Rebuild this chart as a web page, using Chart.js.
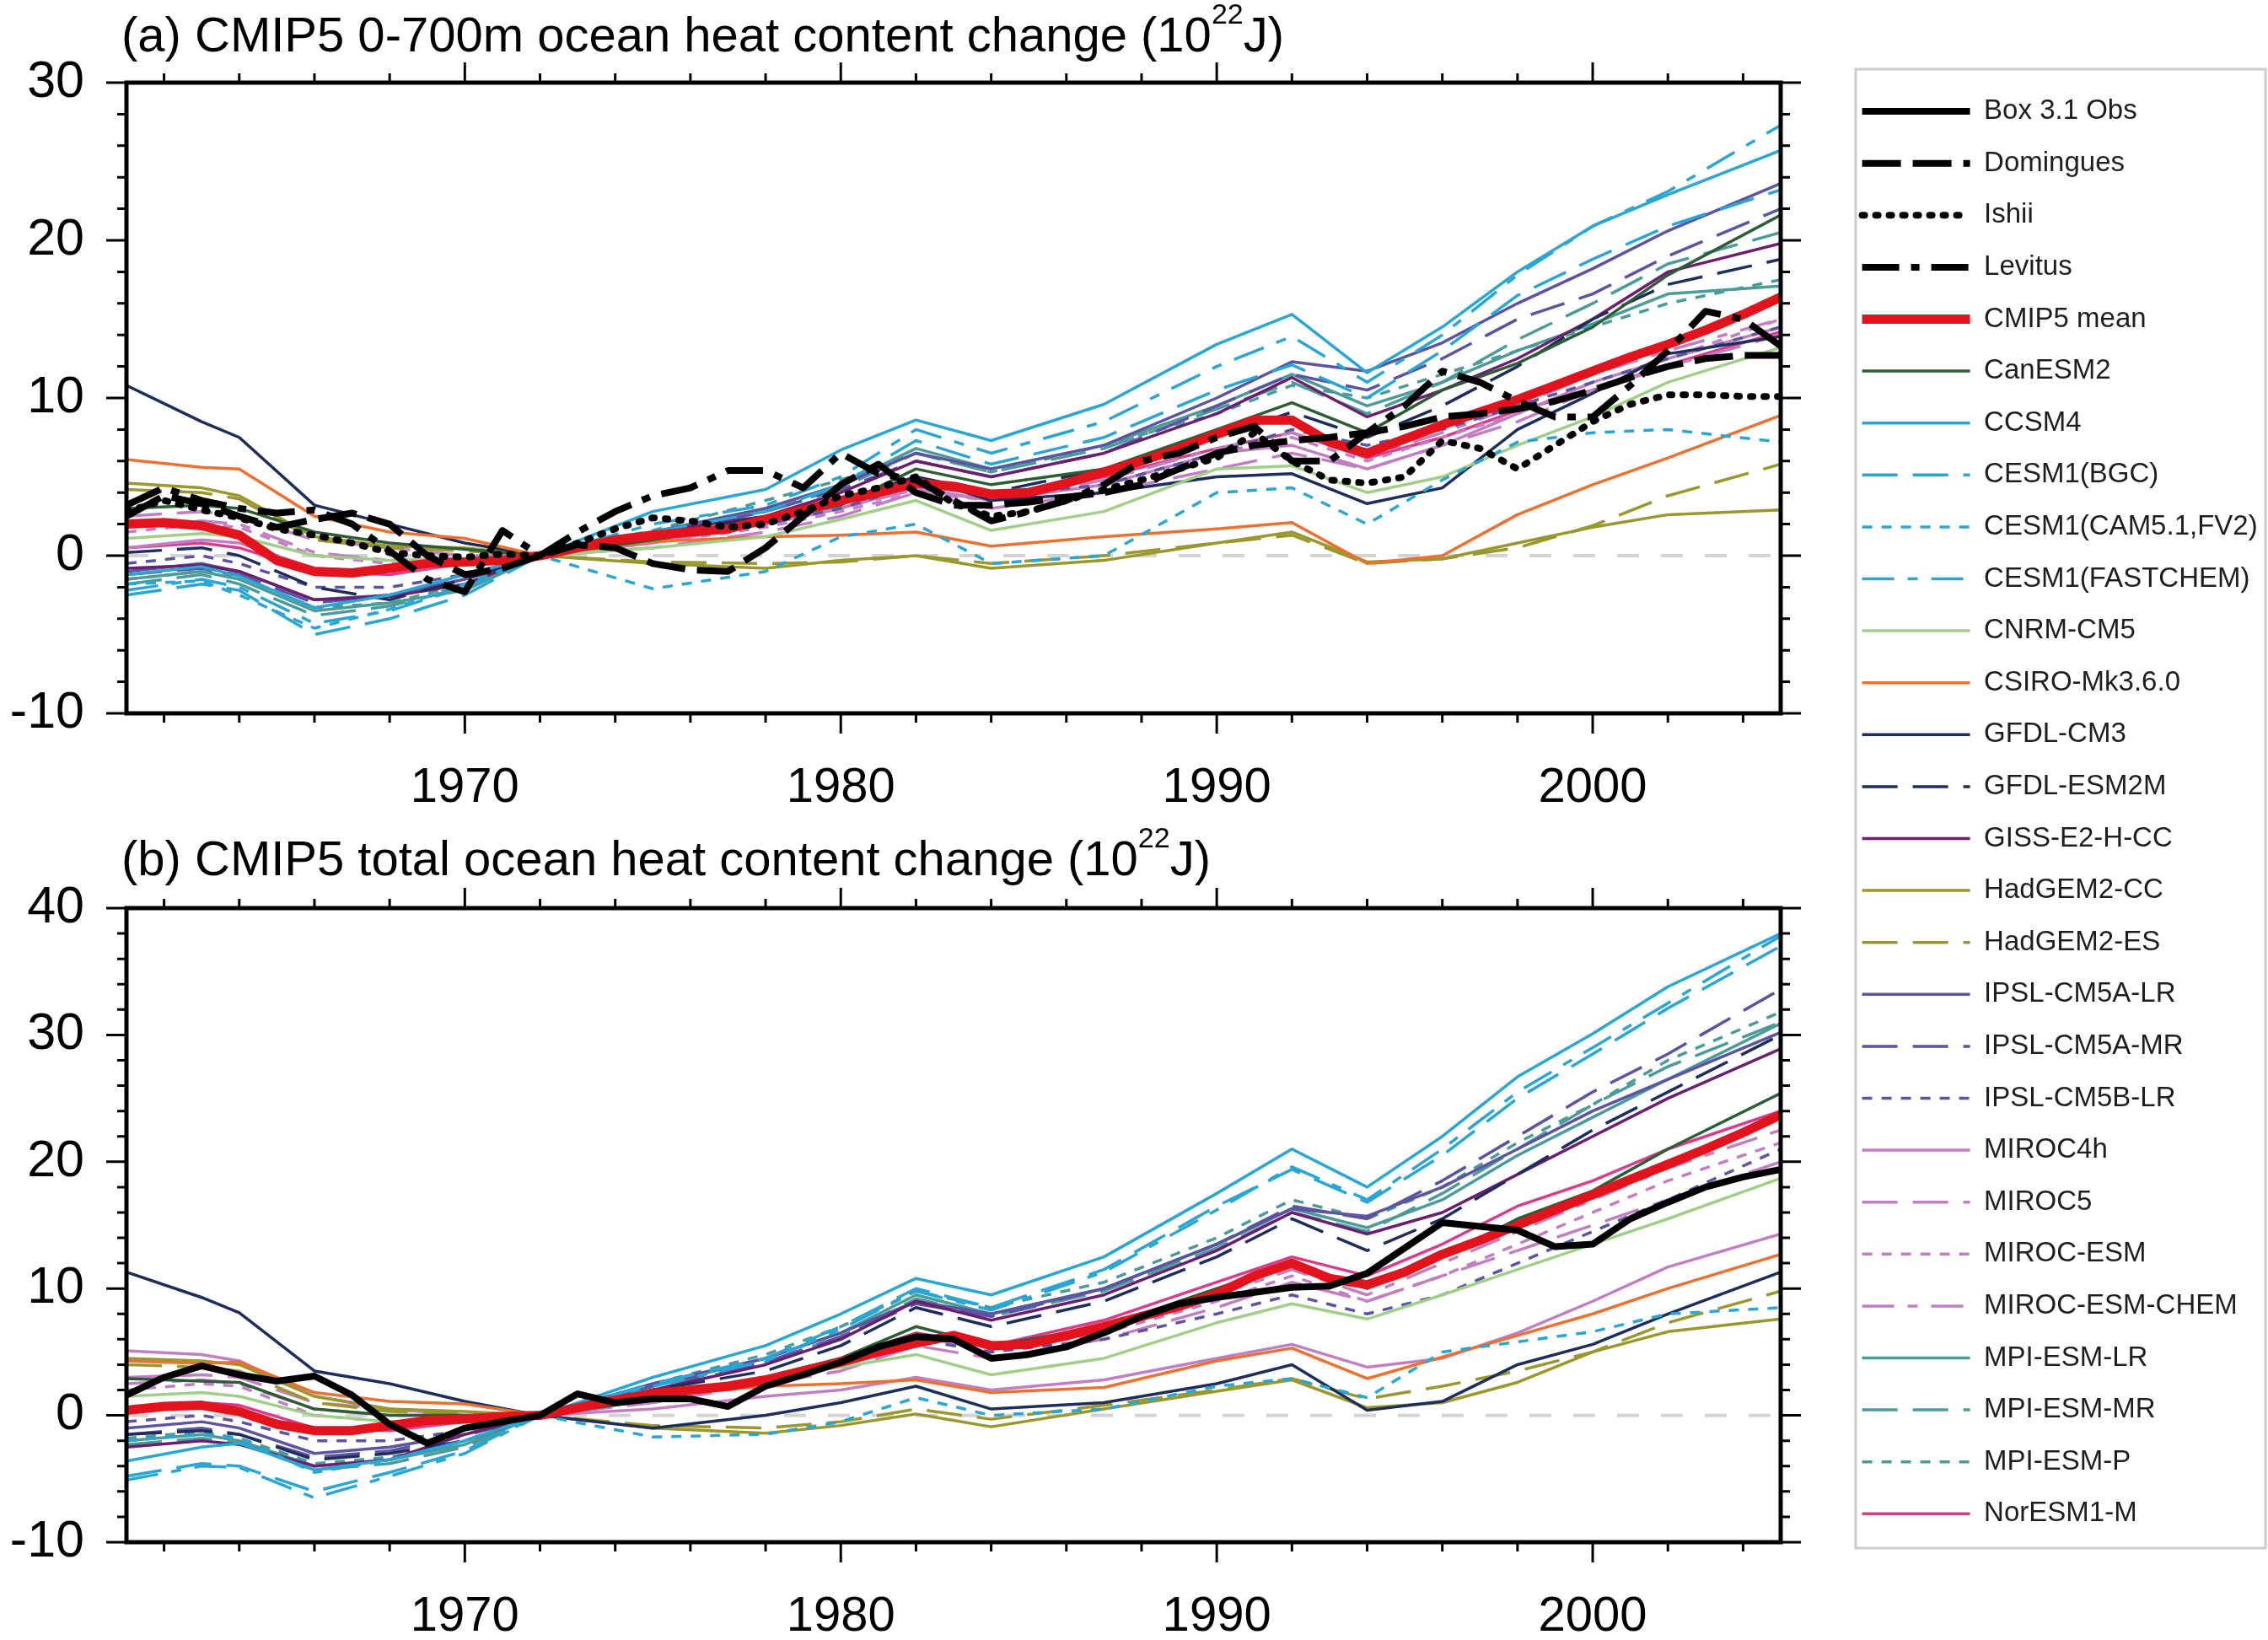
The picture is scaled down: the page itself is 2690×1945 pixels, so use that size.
<!DOCTYPE html>
<html>
<head>
<meta charset="utf-8">
<script src="https://cdn.jsdelivr.net/npm/chart.js@4/dist/chart.umd.min.js"></script>
<style>
  body { margin: 0; width: 2690px; height: 1945px; overflow: hidden; background: #fff; position: relative; font-family: "Liberation Sans", Arial, sans-serif; }
  canvas { position: absolute; }
  .ttl { position: absolute; left: 144px; font-size: 58px; line-height: 58px; color: #000; white-space: nowrap; z-index: 2; }
  .ttl span { font-size: 34px; position: relative; top: -33px; }
</style>
</head>
<body>
<canvas id="chartA" width="2180" height="1010" style="left:0;top:0;width:2180px;height:1010px"></canvas>
<canvas id="chartB" width="2180" height="965" style="left:0;top:980px;width:2180px;height:965px"></canvas>
<canvas id="legendChart" width="1100" height="1945" style="left:2180px;top:0;width:1100px;height:1945px"></canvas>
<div class="ttl" style="top:12px">(a) CMIP5 0-700m ocean heat content change (10<span>22</span>J)</div>
<div class="ttl" style="top:989px">(b) CMIP5 total ocean heat content change (10<span>22</span>J)</div>
<script>
// years of the annual obs / mean series
const years = [1961, 1962, 1963, 1964, 1965, 1966, 1967, 1968, 1969, 1970,
  1971, 1972, 1973, 1974, 1975, 1976, 1977, 1978, 1979, 1980,
  1981, 1982, 1983, 1984, 1985, 1986, 1987, 1988, 1989, 1990,
  1991, 1992, 1993, 1994, 1995, 1996, 1997, 1998, 1999, 2000,
  2001, 2002, 2003, 2004, 2005];
const modelYears = [1961, 1963, 1964, 1966, 1968, 1970, 1972, 1975, 1978, 1980, 1982,
  1984, 1987, 1990, 1992, 1994, 1996, 1998, 2000, 2002, 2005];

const xTicks = [1970, 1980, 1990, 2000];
const yTicksA = [-10, 0, 10, 20, 30];
const yTicksB = [-10, 0, 10, 20, 30, 40];

// (a) 0-700 m observations and multi-model mean
const domingues = [2.5, 3.8, 3.3, 2.5, 1.8, 2.3, 2.7, 2.0, 0.0, -1.2,
  -0.8, 0, 0.7, 0.5, -0.5, -0.9, -1.0, 0.5, 2.5, 4.5,
  5.8, 4.0, 3.2, 3.2, 3.4, 3.7, 4.0, 4.5, 5.5, 6.5,
  7.0, 7.3, 7.5, 7.8, 8.2, 8.8, 9.0, 9.3, 9.8, 10.5,
  11.3, 12.0, 12.5, 12.7, 12.7];
const ishii = [2.8, 3.5, 2.9, 2.4, 1.7, 1.3, 0.8, 0.2, 0.0, -0.1,
  0.1, 0, 0.8, 1.7, 2.4, 2.2, 1.8, 2.0, 2.8, 3.8,
  4.3, 5.0, 3.3, 2.5, 2.8, 3.5, 4.2, 4.8, 5.5, 6.2,
  7.8, 6.0, 4.8, 4.6, 5.0, 7.3, 6.8, 5.5, 7.0, 8.5,
  9.6, 10.2, 10.2, 10.1, 10.1];
const levitus = [3.2, 4.3, 3.5, 3.0, 2.7, 2.9, 2.0, 0.3, -1.5, -2.3,
  1.6, 0, 1.5, 2.8, 3.8, 4.3, 5.4, 5.4, 4.3, 6.5,
  5.2, 4.8, 3.5, 2.2, 2.8, 3.5, 4.5, 6.0, 6.5, 7.5,
  8.2, 6.0, 6.0, 7.8, 9.5, 11.7, 11.0, 9.8, 8.8, 8.8,
  10.8, 13.0, 15.5, 15.0, 13.3];
const meanA = [2.0, 2.1, 1.9, 1.3, -0.3, -1.0, -1.1, -0.8, -0.5, -0.4,
  -0.3, 0, 0.5, 1.0, 1.3, 1.5, 1.7, 2.3, 2.9, 3.5,
  4.0, 4.6, 4.4, 3.9, 4.0, 4.6, 5.3, 6.0, 6.8, 7.7,
  8.6, 8.6, 7.2, 6.5, 7.4, 8.3, 9.1, 9.9, 10.8, 11.7,
  12.6, 13.4, 14.3, 15.3, 16.4];

// (b) total ocean observations and multi-model mean
const boxObs = [1.6, 3.0, 3.9, 3.2, 2.7, 3.1, 1.6, -0.7, -2.2, -1.0,
  -0.5, 0, 1.7, 1.0, 1.3, 1.3, 0.7, 2.3, 3.2, 4.2,
  5.4, 6.2, 6.0, 4.5, 4.8, 5.4, 6.5, 7.8, 8.8, 9.3,
  9.7, 10.1, 10.2, 11.2, 13.2, 15.2, 14.9, 14.6, 13.3, 13.5,
  15.5, 16.8, 18.0, 18.8, 19.4];
const meanB = [0.4, 0.7, 0.8, 0.3, -0.7, -1.2, -1.2, -0.8, -0.4, -0.3,
  -0.1, 0, 0.6, 1.2, 1.7, 2.0, 2.3, 2.8, 3.5, 4.2,
  5.0, 5.7, 6.3, 5.5, 5.6, 6.3, 7.0, 7.8, 8.6, 9.6,
  11.0, 12.0, 10.8, 10.3, 11.3, 12.7, 13.8, 15.0, 16.2, 17.4,
  18.6, 19.8, 21.0, 22.3, 23.7];

// models, panel (a)
const canESM2_a = [3.0, 3.2, 3.0, 1.5, 0.8, 0.4, 0, 1.0, 2.2, 3.2, 5.5, 4.5, 5.5, 8.0, 9.7, 7.8, 10.5, 12.2, 14.5, 17.8, 21.6];
const ccsm4_a = [-1.2, -0.7, -1.3, -3.3, -2.5, -1.2, 0, 2.8, 4.2, 6.7, 8.6, 7.3, 9.6, 13.4, 15.3, 11.6, 14.5, 18.0, 20.9, 22.9, 25.7];
const cesmBGC_a = [-2.5, -1.8, -2.2, -5.0, -4.0, -2.5, 0, 1.5, 2.8, 4.5, 7.3, 5.8, 7.5, 10.5, 12.1, 10.0, 13.0, 16.5, 18.8, 20.9, 23.2];
const cesmCAM_a = [-1.8, -1.6, -2.5, -4.6, -3.4, -1.8, 0, -2.1, -1.0, 1.2, 2.0, -0.5, 0.0, 4.0, 4.3, 2.0, 4.8, 7.2, 7.8, 8.0, 7.2];
const cesmFC_a = [-2.2, -1.5, -2.0, -4.3, -3.5, -2.0, 0, 2.0, 3.2, 5.0, 8.0, 6.5, 8.5, 12.0, 13.9, 11.0, 14.0, 17.8, 20.9, 23.1, 27.3];
const cnrm_a = [1.1, 1.4, 1.2, 0.0, -0.3, -0.3, 0, 0.5, 1.2, 2.3, 3.5, 1.6, 2.8, 5.5, 5.7, 4.0, 5.0, 7.0, 8.8, 11.0, 13.2];
const csiro_a = [6.1, 5.6, 5.5, 2.5, 1.5, 1.1, 0, 0.9, 1.2, 1.3, 1.5, 0.6, 1.2, 1.7, 2.1, -0.5, 0.0, 2.6, 4.5, 6.2, 8.9];
const gfdlCM3_a = [10.8, 8.5, 7.5, 3.2, 2.0, 0.8, 0, 1.0, 2.2, 3.5, 5.0, 3.5, 4.0, 5.0, 5.2, 3.3, 4.3, 8.0, 10.3, 12.8, 13.9];
const gfdlESM_a = [0.2, 0.5, 0.0, -2.0, -2.8, -1.5, 0, 1.2, 2.5, 3.5, 5.0, 4.0, 5.5, 7.5, 9.1, 7.5, 9.5, 12.0, 15.0, 17.2, 18.8];
const giss_a = [-0.8, -0.6, -1.0, -2.8, -2.6, -1.8, 0, 1.5, 2.5, 4.0, 6.0, 5.0, 6.5, 9.0, 11.3, 8.8, 10.5, 12.5, 15.0, 18.0, 19.8];
const hadCC_a = [4.6, 4.3, 3.8, 1.2, 0.6, 0.5, 0, -0.5, -0.8, -0.3, 0.0, -0.8, -0.3, 0.8, 1.5, -0.4, -0.2, 0.8, 1.8, 2.6, 2.9];
const hadES_a = [4.2, 4.0, 3.6, 1.0, 0.5, 0.3, 0, -0.4, -0.5, -0.4, 0.0, -0.5, 0.0, 0.8, 1.3, -0.5, -0.2, 0.5, 1.9, 3.8, 5.8];
const ipslALR_a = [-1.0, -0.5, -1.0, -2.8, -2.5, -1.5, 0, 1.5, 3.0, 4.5, 6.5, 5.5, 7.0, 10.0, 12.3, 11.7, 13.5, 16.0, 18.2, 20.6, 23.6];
const ipslAMR_a = [-1.2, -0.8, -1.2, -3.0, -2.5, -1.5, 0, 1.3, 2.8, 4.2, 6.0, 5.0, 6.5, 9.5, 11.5, 10.5, 12.5, 15.0, 16.6, 19.0, 22.0];
const ipslBLR_a = [-0.5, 0.0, -0.5, -2.0, -2.0, -1.2, 0, 1.0, 2.0, 3.0, 4.5, 3.8, 4.5, 6.5, 8.0, 7.0, 8.0, 9.5, 11.0, 12.5, 14.5];
const miroc4h_a = [0.5, 1.0, 0.8, -0.8, -1.0, -0.5, 0, 0.8, 2.0, 3.0, 4.3, 3.5, 4.5, 6.5, 7.0, 5.5, 7.0, 9.0, 11.0, 12.5, 14.5];
const miroc5_a = [2.5, 2.8, 2.5, 1.0, 0.5, 0.0, 0, 0.5, 1.5, 2.5, 4.0, 3.0, 4.0, 5.5, 6.5, 5.5, 7.0, 8.5, 10.5, 12.0, 14.0];
const mirocESM_a = [1.5, 2.0, 1.8, 0.0, -0.5, -0.3, 0, 0.8, 1.8, 2.8, 4.0, 3.5, 4.5, 6.5, 7.5, 6.0, 7.5, 9.0, 11.0, 12.5, 15.0];
const mirocCHEM_a = [1.8, 2.2, 2.0, 0.2, -0.3, -0.2, 0, 0.9, 2.0, 3.0, 4.2, 3.5, 4.8, 6.8, 7.8, 6.3, 7.8, 9.5, 11.5, 13.0, 15.0];
const mpiLR_a = [-1.5, -1.0, -1.5, -3.5, -3.0, -2.2, 0, 1.5, 3.0, 4.5, 6.8, 5.5, 7.0, 9.5, 11.5, 9.5, 11.0, 13.0, 14.7, 16.6, 17.1];
const mpiMR_a = [-1.8, -1.2, -1.8, -3.8, -3.2, -2.0, 0, 1.3, 2.8, 4.3, 6.5, 5.3, 6.8, 9.3, 11.0, 9.0, 11.0, 13.7, 16.0, 18.5, 20.5];
const mpiP_a = [-1.5, -1.0, -1.3, -3.3, -3.0, -1.8, 0, 1.6, 3.5, 4.8, 6.5, 5.3, 7.0, 9.0, 10.8, 10.0, 11.5, 13.0, 14.5, 16.0, 17.5];
const norESM_a = [0.5, 0.8, 0.5, -1.0, -1.2, -0.5, 0, 1.0, 2.0, 3.0, 4.5, 3.8, 5.0, 6.8, 7.8, 6.2, 7.5, 9.2, 10.5, 12.1, 14.2];

// models, panel (b)
const canESM2_b = [2.9, 2.7, 2.6, 0.5, 0.0, 0.0, 0, 1.2, 3.0, 4.5, 7.0, 5.5, 7.0, 10.0, 12.0, 10.0, 12.5, 15.5, 17.7, 21.0, 25.4];
const ccsm4_b = [-3.6, -2.5, -2.2, -4.3, -3.5, -2.0, 0, 3.0, 5.5, 8.0, 10.8, 9.5, 12.5, 17.5, 21.0, 18.0, 22.0, 26.7, 30.1, 33.8, 38.0];
const cesmBGC_b = [-4.8, -3.8, -4.0, -6.0, -4.5, -2.8, 0, 2.5, 4.5, 7.0, 10.0, 8.5, 11.5, 16.5, 19.4, 16.8, 20.5, 25.0, 28.5, 32.1, 37.0];
const cesmCAM_b = [-2.0, -1.5, -1.8, -4.5, -3.5, -2.0, 0, -1.7, -1.5, -0.5, 1.4, 0.0, 0.5, 2.3, 2.9, 1.4, 5.0, 5.8, 6.6, 8.0, 8.5];
const cesmFC_b = [-5.1, -4.0, -4.1, -6.5, -4.8, -3.0, 0, 2.3, 4.3, 6.8, 9.8, 8.3, 11.3, 16.2, 19.6, 17.0, 21.0, 25.5, 29.0, 32.5, 37.8];
const cnrm_b = [1.5, 1.8, 1.5, 0.0, -0.5, -0.5, 0, 1.5, 3.0, 3.8, 4.8, 3.2, 4.5, 7.3, 8.8, 7.6, 9.5, 11.5, 13.5, 15.5, 18.7];
const csiro_b = [4.3, 4.1, 4.2, 1.8, 1.1, 0.9, 0, 1.5, 2.3, 2.5, 2.8, 1.8, 2.2, 4.3, 5.3, 2.9, 4.6, 6.3, 8.0, 10.0, 12.7];
const gfdlCM3_b = [11.3, 9.3, 8.1, 3.5, 2.5, 1.1, 0, -1.0, 0.0, 1.0, 2.3, 0.5, 1.0, 2.5, 4.0, 0.4, 1.1, 4.0, 5.6, 8.0, 11.3];
const gfdlESM_b = [-1.5, -1.2, -1.5, -3.5, -3.0, -2.0, 0, 2.0, 3.5, 5.5, 8.5, 7.0, 9.0, 12.5, 15.5, 13.0, 15.5, 19.0, 22.5, 25.5, 30.0];
const giss_b = [-2.5, -2.0, -2.3, -4.0, -3.5, -1.5, 0, 2.0, 4.0, 6.0, 9.0, 7.5, 9.5, 13.0, 16.0, 14.3, 16.0, 19.0, 22.0, 25.0, 28.9];
const hadCC_b = [4.5, 4.3, 4.0, 1.5, 0.5, 0.3, 0, -1.0, -1.4, -0.8, 0.1, -0.9, 0.5, 1.9, 2.8, 0.6, 1.0, 2.6, 5.0, 6.6, 7.6];
const hadES_b = [4.0, 3.8, 3.5, 1.0, 0.3, 0.2, 0, -0.8, -1.0, -0.5, 0.5, -0.3, 0.8, 2.0, 2.9, 1.3, 2.3, 3.5, 5.0, 7.3, 9.8];
const ipslALR_b = [-1.0, -0.5, -1.0, -3.0, -2.5, -1.5, 0, 2.5, 4.5, 6.5, 9.0, 8.0, 10.0, 13.5, 16.3, 15.7, 18.0, 21.0, 24.0, 26.5, 30.2];
const ipslAMR_b = [-1.5, -1.0, -1.5, -3.3, -2.8, -1.6, 0, 2.3, 4.2, 6.2, 8.8, 7.8, 10.0, 13.5, 16.5, 15.5, 18.5, 22.0, 25.5, 28.5, 33.6];
const ipslBLR_b = [-0.5, 0.0, -0.5, -2.0, -2.0, -1.2, 0, 1.5, 3.0, 4.0, 6.0, 5.0, 6.0, 8.0, 9.5, 8.0, 9.5, 12.0, 14.5, 17.0, 21.0];
const miroc4h_b = [5.1, 4.8, 4.3, 1.5, 0.5, 0.0, 0, 0.5, 1.5, 2.0, 3.0, 2.0, 2.8, 4.5, 5.6, 3.8, 4.5, 6.5, 9.0, 11.7, 14.3];
const miroc5_b = [3.0, 3.2, 3.0, 1.0, 0.5, 0.0, 0, 1.0, 2.5, 3.5, 5.5, 4.5, 6.0, 8.5, 10.5, 9.0, 11.0, 13.0, 15.0, 17.0, 20.0];
const mirocESM_b = [2.0, 2.5, 2.3, 0.0, -0.5, -0.3, 0, 1.2, 2.8, 4.0, 6.0, 5.0, 6.5, 9.0, 11.0, 9.0, 11.0, 13.5, 16.0, 18.5, 21.5];
const mirocCHEM_b = [2.5, 2.8, 2.5, 0.5, 0.0, 0.0, 0, 1.3, 3.0, 4.2, 6.2, 5.2, 6.8, 9.5, 11.5, 9.5, 12.0, 14.5, 17.0, 19.5, 22.5];
const mpiLR_b = [-2.0, -1.5, -2.0, -4.0, -3.5, -2.3, 0, 2.3, 4.5, 6.5, 9.5, 8.0, 10.0, 13.5, 16.3, 14.8, 17.0, 20.5, 23.5, 26.5, 30.9];
const mpiMR_b = [-2.3, -1.8, -2.2, -4.3, -3.8, -2.5, 0, 2.0, 4.2, 6.2, 9.2, 7.8, 9.8, 13.2, 16.0, 14.5, 17.5, 21.0, 24.5, 27.5, 31.0];
const mpiP_b = [-1.8, -1.3, -1.8, -3.8, -3.3, -2.0, 0, 2.5, 4.8, 7.0, 9.8, 8.5, 10.5, 14.0, 17.0, 15.5, 18.0, 21.5, 24.5, 28.0, 31.8];
const norESM_b = [0.5, 1.0, 0.8, -1.0, -1.2, -0.5, 0, 1.5, 3.0, 4.5, 6.5, 5.5, 7.5, 10.5, 12.5, 11.0, 13.5, 16.5, 18.5, 21.0, 24.0];

const COLORS = {
  canesm: "#2d5d35",
  cesm: "#29a6d5",
  cnrm: "#a0cf88",
  csiro: "#ec702f",
  gfdl: "#1d2e5c",
  giss: "#6c1f6e",
  hadgem: "#9a982d",
  ipsl: "#5a54a3",
  miroc: "#c27ec2",
  mpi: "#4b9b98",
  noresm: "#dc3b8b",
  mean: "#e2131d",
  obs: "#000000",
};
const LEGEND_TEXT = "#1e1e1e";

const SOLID = [];
const DASH = [42, 18];
const SHORT = [12, 11];
const DASHDOT = [38, 16, 12, 16];

const models = [
  { label: "CanESM2", color: COLORS.canesm, dash: SOLID, a: canESM2_a, b: canESM2_b },
  { label: "CCSM4", color: COLORS.cesm, dash: SOLID, a: ccsm4_a, b: ccsm4_b },
  { label: "CESM1(BGC)", color: COLORS.cesm, dash: DASH, a: cesmBGC_a, b: cesmBGC_b },
  { label: "CESM1(CAM5.1,FV2)", color: COLORS.cesm, dash: SHORT, a: cesmCAM_a, b: cesmCAM_b },
  { label: "CESM1(FASTCHEM)", color: COLORS.cesm, dash: DASHDOT, a: cesmFC_a, b: cesmFC_b },
  { label: "CNRM-CM5", color: COLORS.cnrm, dash: SOLID, a: cnrm_a, b: cnrm_b },
  { label: "CSIRO-Mk3.6.0", color: COLORS.csiro, dash: SOLID, a: csiro_a, b: csiro_b },
  { label: "GFDL-CM3", color: COLORS.gfdl, dash: SOLID, a: gfdlCM3_a, b: gfdlCM3_b },
  { label: "GFDL-ESM2M", color: COLORS.gfdl, dash: DASH, a: gfdlESM_a, b: gfdlESM_b },
  { label: "GISS-E2-H-CC", color: COLORS.giss, dash: SOLID, a: giss_a, b: giss_b },
  { label: "HadGEM2-CC", color: COLORS.hadgem, dash: SOLID, a: hadCC_a, b: hadCC_b },
  { label: "HadGEM2-ES", color: COLORS.hadgem, dash: DASH, a: hadES_a, b: hadES_b },
  { label: "IPSL-CM5A-LR", color: COLORS.ipsl, dash: SOLID, a: ipslALR_a, b: ipslALR_b },
  { label: "IPSL-CM5A-MR", color: COLORS.ipsl, dash: DASH, a: ipslAMR_a, b: ipslAMR_b },
  { label: "IPSL-CM5B-LR", color: COLORS.ipsl, dash: SHORT, a: ipslBLR_a, b: ipslBLR_b },
  { label: "MIROC4h", color: COLORS.miroc, dash: SOLID, a: miroc4h_a, b: miroc4h_b },
  { label: "MIROC5", color: COLORS.miroc, dash: DASH, a: miroc5_a, b: miroc5_b },
  { label: "MIROC-ESM", color: COLORS.miroc, dash: SHORT, a: mirocESM_a, b: mirocESM_b },
  { label: "MIROC-ESM-CHEM", color: COLORS.miroc, dash: DASHDOT, a: mirocCHEM_a, b: mirocCHEM_b },
  { label: "MPI-ESM-LR", color: COLORS.mpi, dash: SOLID, a: mpiLR_a, b: mpiLR_b },
  { label: "MPI-ESM-MR", color: COLORS.mpi, dash: DASH, a: mpiMR_a, b: mpiMR_b },
  { label: "MPI-ESM-P", color: COLORS.mpi, dash: SHORT, a: mpiP_a, b: mpiP_b },
  { label: "NorESM1-M", color: COLORS.noresm, dash: SOLID, a: norESM_a, b: norESM_b },
];

const obsStyles = {
  box: { label: "Box 3.1 Obs", borderDash: SOLID, borderCapStyle: "butt" },
  domingues: { label: "Domingues", borderDash: [46, 14], borderCapStyle: "butt" },
  ishii: { label: "Ishii", borderDash: [3, 13], borderCapStyle: "round" },
  levitus: { label: "Levitus", borderDash: [44, 14, 10, 14], borderCapStyle: "butt" },
};

Chart.defaults.font.family = '"Liberation Sans", Arial, sans-serif';
Chart.defaults.color = "#000";

function series(xs, ys) {
  return xs.map((x, i) => ({ x: x, y: ys[i] }));
}

function obsSet(style, ys) {
  return {
    ...style,
    data: ys ? series(years, ys) : [],
    borderColor: COLORS.obs,
    borderWidth: 8,
    borderJoinStyle: "round",
    pointRadius: 0,
    tension: 0,
    fill: false,
  };
}

function meanSet(ys) {
  return {
    label: "CMIP5 mean",
    data: ys ? series(years, ys) : [],
    borderColor: COLORS.mean,
    borderWidth: 11,
    borderJoinStyle: "round",
    borderCapStyle: "butt",
    borderDash: SOLID,
    pointRadius: 0,
    tension: 0,
    fill: false,
  };
}

function modelSet(m, ys) {
  return {
    label: m.label,
    data: ys ? series(modelYears, ys) : [],
    borderColor: m.color,
    borderDash: m.dash,
    borderWidth: 3.5,
    borderCapStyle: "butt",
    borderJoinStyle: "round",
    pointRadius: 0,
    tension: 0,
    fill: false,
  };
}

// frame, outward ticks on all four sides and the dashed zero line
const frame = {
  id: "frame",
  beforeDatasetsDraw(chart) {
    const { ctx, chartArea: a, scales: { y } } = chart;
    const y0 = y.getPixelForValue(0);
    ctx.save();
    ctx.strokeStyle = "#d3d3d3";
    ctx.lineWidth = 4;
    ctx.setLineDash([26, 26]);
    ctx.beginPath();
    ctx.moveTo(a.left, y0);
    ctx.lineTo(a.right, y0);
    ctx.stroke();
    ctx.restore();
  },
  afterDraw(chart) {
    const { ctx, chartArea: a, scales: { x, y } } = chart;
    ctx.save();
    ctx.strokeStyle = "#000";
    ctx.lineWidth = 3;
    ctx.beginPath();
    for (let v = Math.ceil(x.min / 2) * 2; v <= x.max; v += 2) {
      const px = x.getPixelForValue(v);
      const len = v % 10 === 0 ? 24 : 11;
      ctx.moveTo(px, a.bottom);
      ctx.lineTo(px, a.bottom + len);
      ctx.moveTo(px, a.top);
      ctx.lineTo(px, a.top - len);
    }
    for (let v = y.min; v <= y.max; v += 2) {
      const py = y.getPixelForValue(v);
      const len = v % 10 === 0 ? 24 : 11;
      ctx.moveTo(a.left, py);
      ctx.lineTo(a.left - len, py);
      ctx.moveTo(a.right, py);
      ctx.lineTo(a.right + len, py);
    }
    ctx.stroke();
    ctx.lineWidth = 5;
    ctx.strokeRect(a.left, a.top, a.right - a.left, a.bottom - a.top);
    ctx.restore();
  },
};

function panelOptions(yMin, yMax, yTicks, pad, xHeight) {
  return {
    responsive: false,
    animation: false,
    events: [],
    layout: { padding: pad },
    plugins: { legend: { display: false }, tooltip: { enabled: false } },
    scales: {
      x: {
        type: "linear",
        min: 1961,
        max: 2005,
        afterFit: (s) => { s.height = xHeight; },
        afterBuildTicks: (s) => { s.ticks = xTicks.map((v) => ({ value: v })); },
        grid: { display: false, drawTicks: false },
        border: { display: false },
        ticks: {
          padding: 54,
          maxRotation: 0,
          autoSkip: false,
          font: { size: 58 },
          color: "#000",
          callback: (v) => String(v),
        },
      },
      y: {
        type: "linear",
        min: yMin,
        max: yMax,
        afterFit: (s) => { s.width = 150; },
        afterBuildTicks: (s) => { s.ticks = yTicks.map((v) => ({ value: v })); },
        grid: { display: false, drawTicks: false },
        border: { display: false },
        ticks: {
          padding: 50,
          autoSkip: false,
          font: { size: 61 },
          color: "#000",
          callback: (v) => String(v),
        },
      },
    },
  };
}

new Chart(document.getElementById("chartA"), {
  type: "line",
  data: {
    datasets: [
      obsSet(obsStyles.domingues, domingues),
      obsSet(obsStyles.ishii, ishii),
      obsSet(obsStyles.levitus, levitus),
      meanSet(meanA),
      ...models.map((m) => modelSet(m, m.a)),
    ],
  },
  options: panelOptions(-10, 30, yTicksA, { top: 98, bottom: 0, left: 0, right: 68 }, 164),
  plugins: [frame],
});

new Chart(document.getElementById("chartB"), {
  type: "line",
  data: {
    datasets: [
      obsSet(obsStyles.box, boxObs),
      meanSet(meanB),
      ...models.map((m) => modelSet(m, m.b)),
    ],
  },
  options: panelOptions(-10, 40, yTicksB, { top: 97, bottom: 0, left: 0, right: 68 }, 116),
  plugins: [frame],
});

// legend lives in its own chart so it can span both panels
const legendBox = {
  id: "legendBox",
  afterDraw(chart) {
    const { ctx, legend } = chart;
    ctx.save();
    ctx.strokeStyle = "#cccccc";
    ctx.lineWidth = 3;
    ctx.strokeRect(legend.left + 21, legend.top - 5, 486, 1754);
    ctx.restore();
  },
};

new Chart(document.getElementById("legendChart"), {
  type: "line",
  data: {
    datasets: [
      obsSet(obsStyles.box),
      obsSet(obsStyles.domingues),
      obsSet(obsStyles.ishii),
      obsSet(obsStyles.levitus),
      meanSet(),
      ...models.map((m) => modelSet(m)),
    ],
  },
  options: {
    responsive: false,
    animation: false,
    events: [],
    layout: { padding: { top: 87, bottom: 40, left: 0, right: 0 } },
    scales: { x: { display: false }, y: { display: false } },
    plugins: {
      tooltip: { enabled: false },
      legend: {
        position: "left",
        align: "start",
        maxWidth: 1000,
        labels: {
          usePointStyle: true,
          pointStyle: "line",
          pointStyleWidth: 128,
          boxHeight: 33,
          padding: 28.6,
          color: LEGEND_TEXT,
          font: { size: 33 },
          generateLabels: (chart) => chart.data.datasets.map((ds, i) => ({
            text: ds.label,
            datasetIndex: i,
            hidden: false,
            fillStyle: ds.borderColor,
            strokeStyle: ds.borderColor,
            lineWidth: ds.borderWidth,
            lineDash: ds.borderDash,
            lineCap: ds.borderCapStyle,
            lineJoin: "miter",
            pointStyle: "line",
            rotation: 0,
            fontColor: LEGEND_TEXT,
          })),
        },
      },
    },
  },
  plugins: [legendBox],
});
</script>
</body>
</html>
